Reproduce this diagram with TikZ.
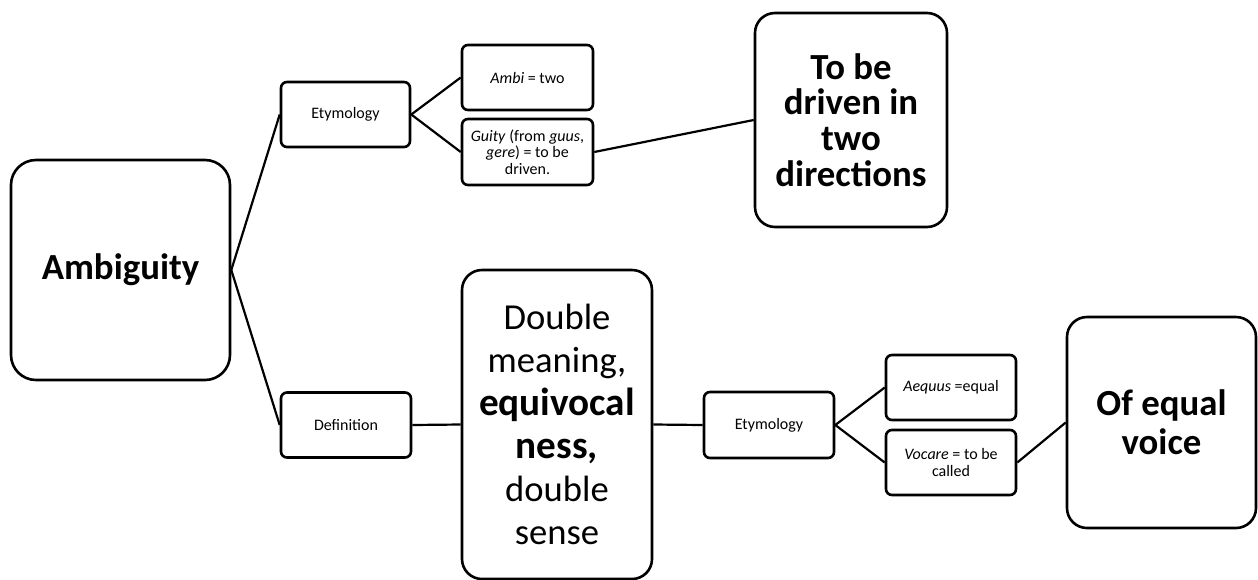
\documentclass[tikz,border=0pt]{standalone}
\usepackage{fontspec}
\setmainfont{Carlito}
\begin{document}
\begin{tikzpicture}[x=0.5pt,y=-0.5pt,
  box/.style={draw=black,line width=1.3pt,fill=white,inner sep=0pt,align=center,font=\fontsize{8}{8.2}\selectfont},
  small/.style={box,rounded corners=3pt,minimum width=65pt,minimum height=32.5pt},
  big/.style={box,rounded corners=10pt,font=\fontsize{18.4}{18}\selectfont\bfseries},
  conn/.style={draw=black,line width=1.1pt}]
\useasboundingbox (0,0) rectangle (1258,579);
\node[big,rounded corners=12.5pt,minimum width=109.5pt,minimum height=110pt] (amb) at (120.5,270) {Ambiguity};
\node[small,minimum width=64.5pt] (ety1) at (345.5,114.5) {Etymology};
\node[small,minimum width=65.5pt] (ambi) at (527.5,77.5) {\textit{Ambi} = two};
\node[small,minimum width=65.5pt,minimum height=33pt] (guity) at (527.5,152) {\textit{Guity} (from \textit{guus},\\\textit{gere}) = to be\\driven.};
\node[big,minimum width=96pt,minimum height=107pt,font=\fontsize{18.4}{17.9}\selectfont\bfseries] (drv) at (851,120) {To be\\driven in\\two\\directions};
\node[small] (def) at (346,425) {Definition};
\node[big,minimum width=95pt,minimum height=154.5pt,font=\fontsize{18.3}{21.5}\selectfont] (dm) at (557,424.5) {Double\\meaning,\\{\fontsize{19.6}{21.5}\selectfont\bfseries equivocal}\\{\fontsize{19.6}{21.5}\selectfont\bfseries ness,}\\double\\sense};
\node[small,minimum height=33pt] (ety2) at (769,425) {Etymology};
\node[small] (aeq) at (951,387.5) {\textit{Aequus} =equal};
\node[small] (voc) at (951,462.5) {\textit{Vocare} = to be\\called};
\node[big,minimum width=94.5pt,minimum height=105.5pt,font=\fontsize{18.4}{19.5}\selectfont\bfseries] (oev) at (1161.5,422.5) {Of equal\\voice};
\draw[conn] (amb.east) -- (ety1.west);
\draw[conn] (amb.east) -- (def.west);
\draw[conn] (ety1.east) -- (ambi.west);
\draw[conn] (ety1.east) -- (guity.west);
\draw[conn] (guity.east) -- (drv.west);
\draw[conn] (def.east) -- (dm.west);
\draw[conn] (dm.east) -- (ety2.west);
\draw[conn] (ety2.east) -- (aeq.west);
\draw[conn] (ety2.east) -- (voc.west);
\draw[conn] (voc.east) -- (oev.west);
\end{tikzpicture}
\end{document}
